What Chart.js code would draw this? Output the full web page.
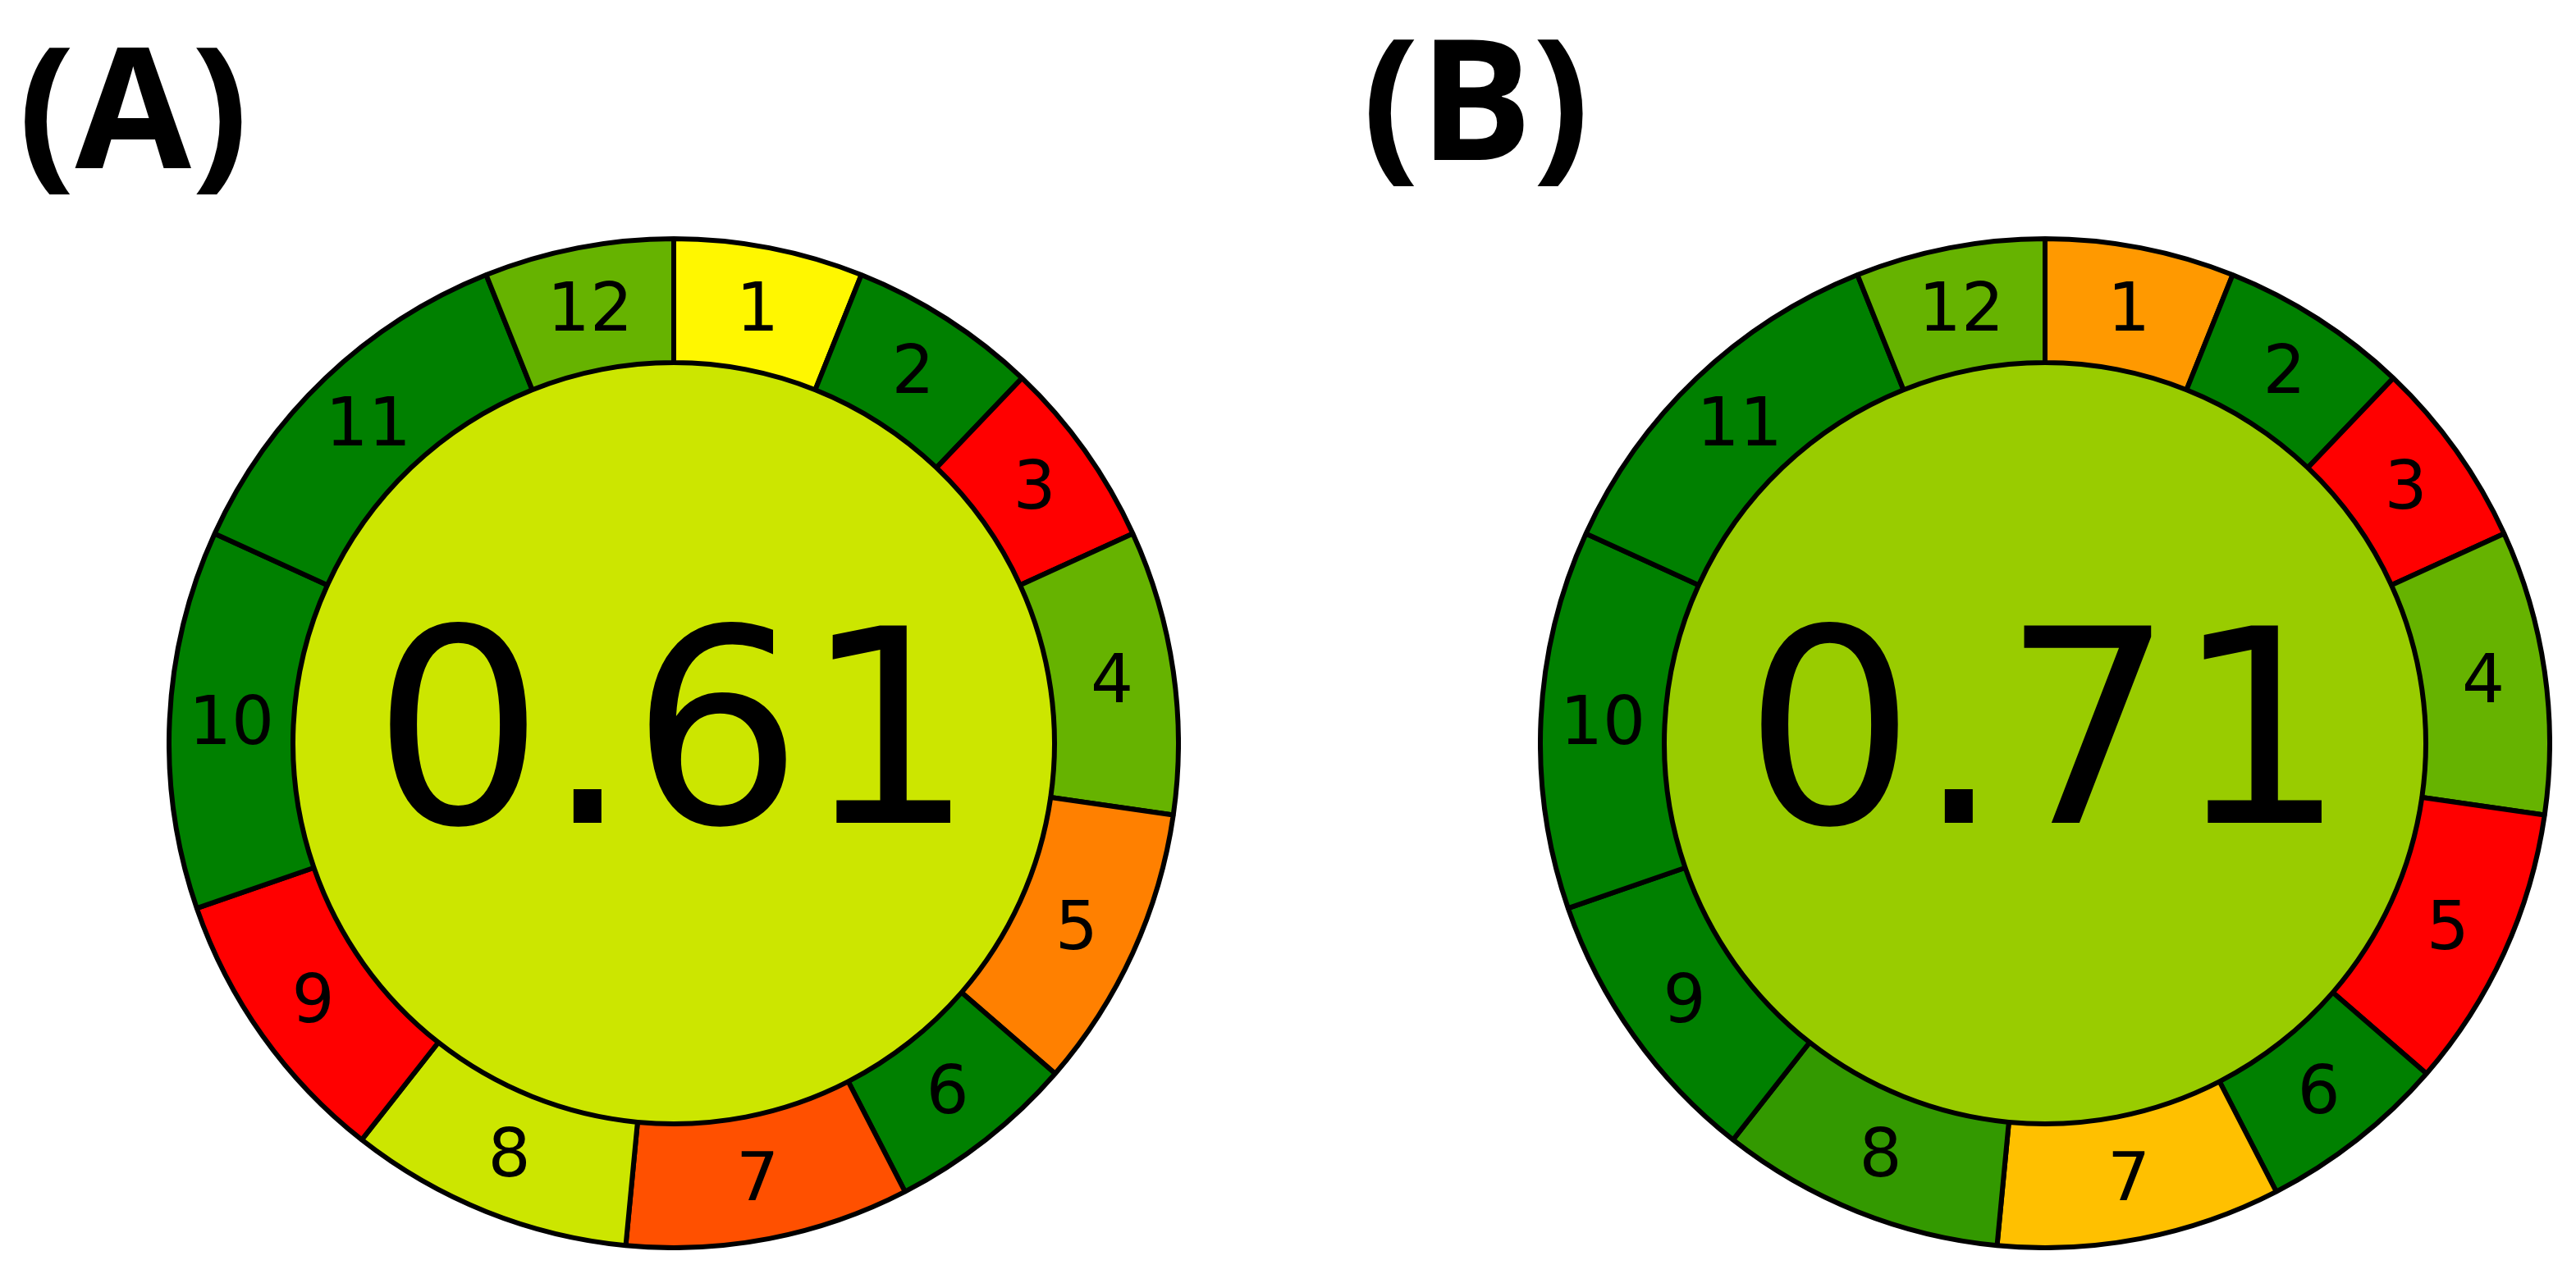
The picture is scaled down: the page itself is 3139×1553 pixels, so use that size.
<!DOCTYPE html>
<html>
<head>
<meta charset="utf-8">
<script src="https://cdn.jsdelivr.net/npm/chart.js@4.4.1/dist/chart.umd.min.js"></script>
<style>
    body { margin: 0; background: #ffffff; width: 3139px; height: 1553px; position: relative; overflow: hidden; }
    .painel { position: absolute; }
    .letra {
        position: absolute;
        font-family: 'Open Sans', sans-serif;
        font-weight: 700;
        font-size: 205px;
        line-height: 1;
        color: #000000;
    }
</style>
</head>
<body>

<div class="letra" style="left: 22px; top: 23px;">(A)</div>
<div class="letra" style="left: 1660px; top: 13px;">(B)</div>

<canvas id="graficoA" class="painel" width="1236" height="1236" style="left: 203px; top: 288px;"></canvas>
<canvas id="graficoB" class="painel" width="1236" height="1236" style="left: 1874px; top: 288px;"></canvas>

<script>
// 12 principios, peso de cada um (largura do segmento)
var principios = ['1', '2', '3', '4', '5', '6', '7', '8', '9', '10', '11', '12'];
var pesos = [2, 2, 2, 3, 3, 2, 3, 3, 3, 4, 4, 2];

var cores_A = ['#FFF700', '#008000', '#FF0000', '#66B300', '#FF8000', '#008000',
               '#FF5000', '#CCE600', '#FF0000', '#008000', '#008000', '#66B300'];
var cores_B = ['#FF9900', '#008000', '#FF0000', '#66B300', '#FF0000', '#008000',
               '#FFC000', '#339900', '#008000', '#008000', '#008000', '#66B300'];

var nota_A = '0.61';
var nota_B = '0.71';
var cor_centro_A = '#CCE600';
var cor_centro_B = '#99CC00';

// raio externo 615, anel de 151 -> miolo pesa 464/151
var peso_miolo = 464 / 151;

const plugin_textos = {
    id: 'textos',
    afterDatasetsDraw(chart, args, opts) {
        const ctx = chart.ctx;
        const meta = chart.getDatasetMeta(0);
        ctx.save();
        ctx.fillStyle = '#000000';
        ctx.textAlign = 'center';
        ctx.textBaseline = 'alphabetic';
        ctx.font = '82px "DejaVu Sans"';
        meta.data.forEach(function (arco, i) {
            const p = arco.getCenterPoint();
            ctx.fillText(chart.data.labels[i], p.x, p.y + 27);
        });
        const cx = meta.data[0].x;
        const cy = meta.data[0].y;
        ctx.font = '330px "DejaVu Sans"';
        ctx.fillText(opts.nota, cx, cy + 97);
        ctx.restore();
    }
};

function criar_grafico(id, cores, cor_centro, nota) {
    const el = document.getElementById(id);
    return new Chart(el, {
        type: 'doughnut',
        data: {
            labels: principios,
            datasets: [{
                data: pesos,
                backgroundColor: cores,
                borderColor: '#000000',
                borderWidth: 6,
                hoverOffset: 0,
                weight: 1
            }, {
                data: [1],
                backgroundColor: cor_centro,
                borderWidth: 0,
                hoverOffset: 0,
                weight: peso_miolo
            }]
        },
        options: {
            responsive: false,
            animation: false,
            events: [],
            cutout: 0,
            plugins: {
                legend: { display: false },
                tooltip: { enabled: false },
                textos: { nota: nota }
            }
        },
        plugins: [plugin_textos]
    });
}

var myChart_A = criar_grafico('graficoA', cores_A, cor_centro_A, nota_A);
var myChart_B = criar_grafico('graficoB', cores_B, cor_centro_B, nota_B);
</script>
</body>
</html>
